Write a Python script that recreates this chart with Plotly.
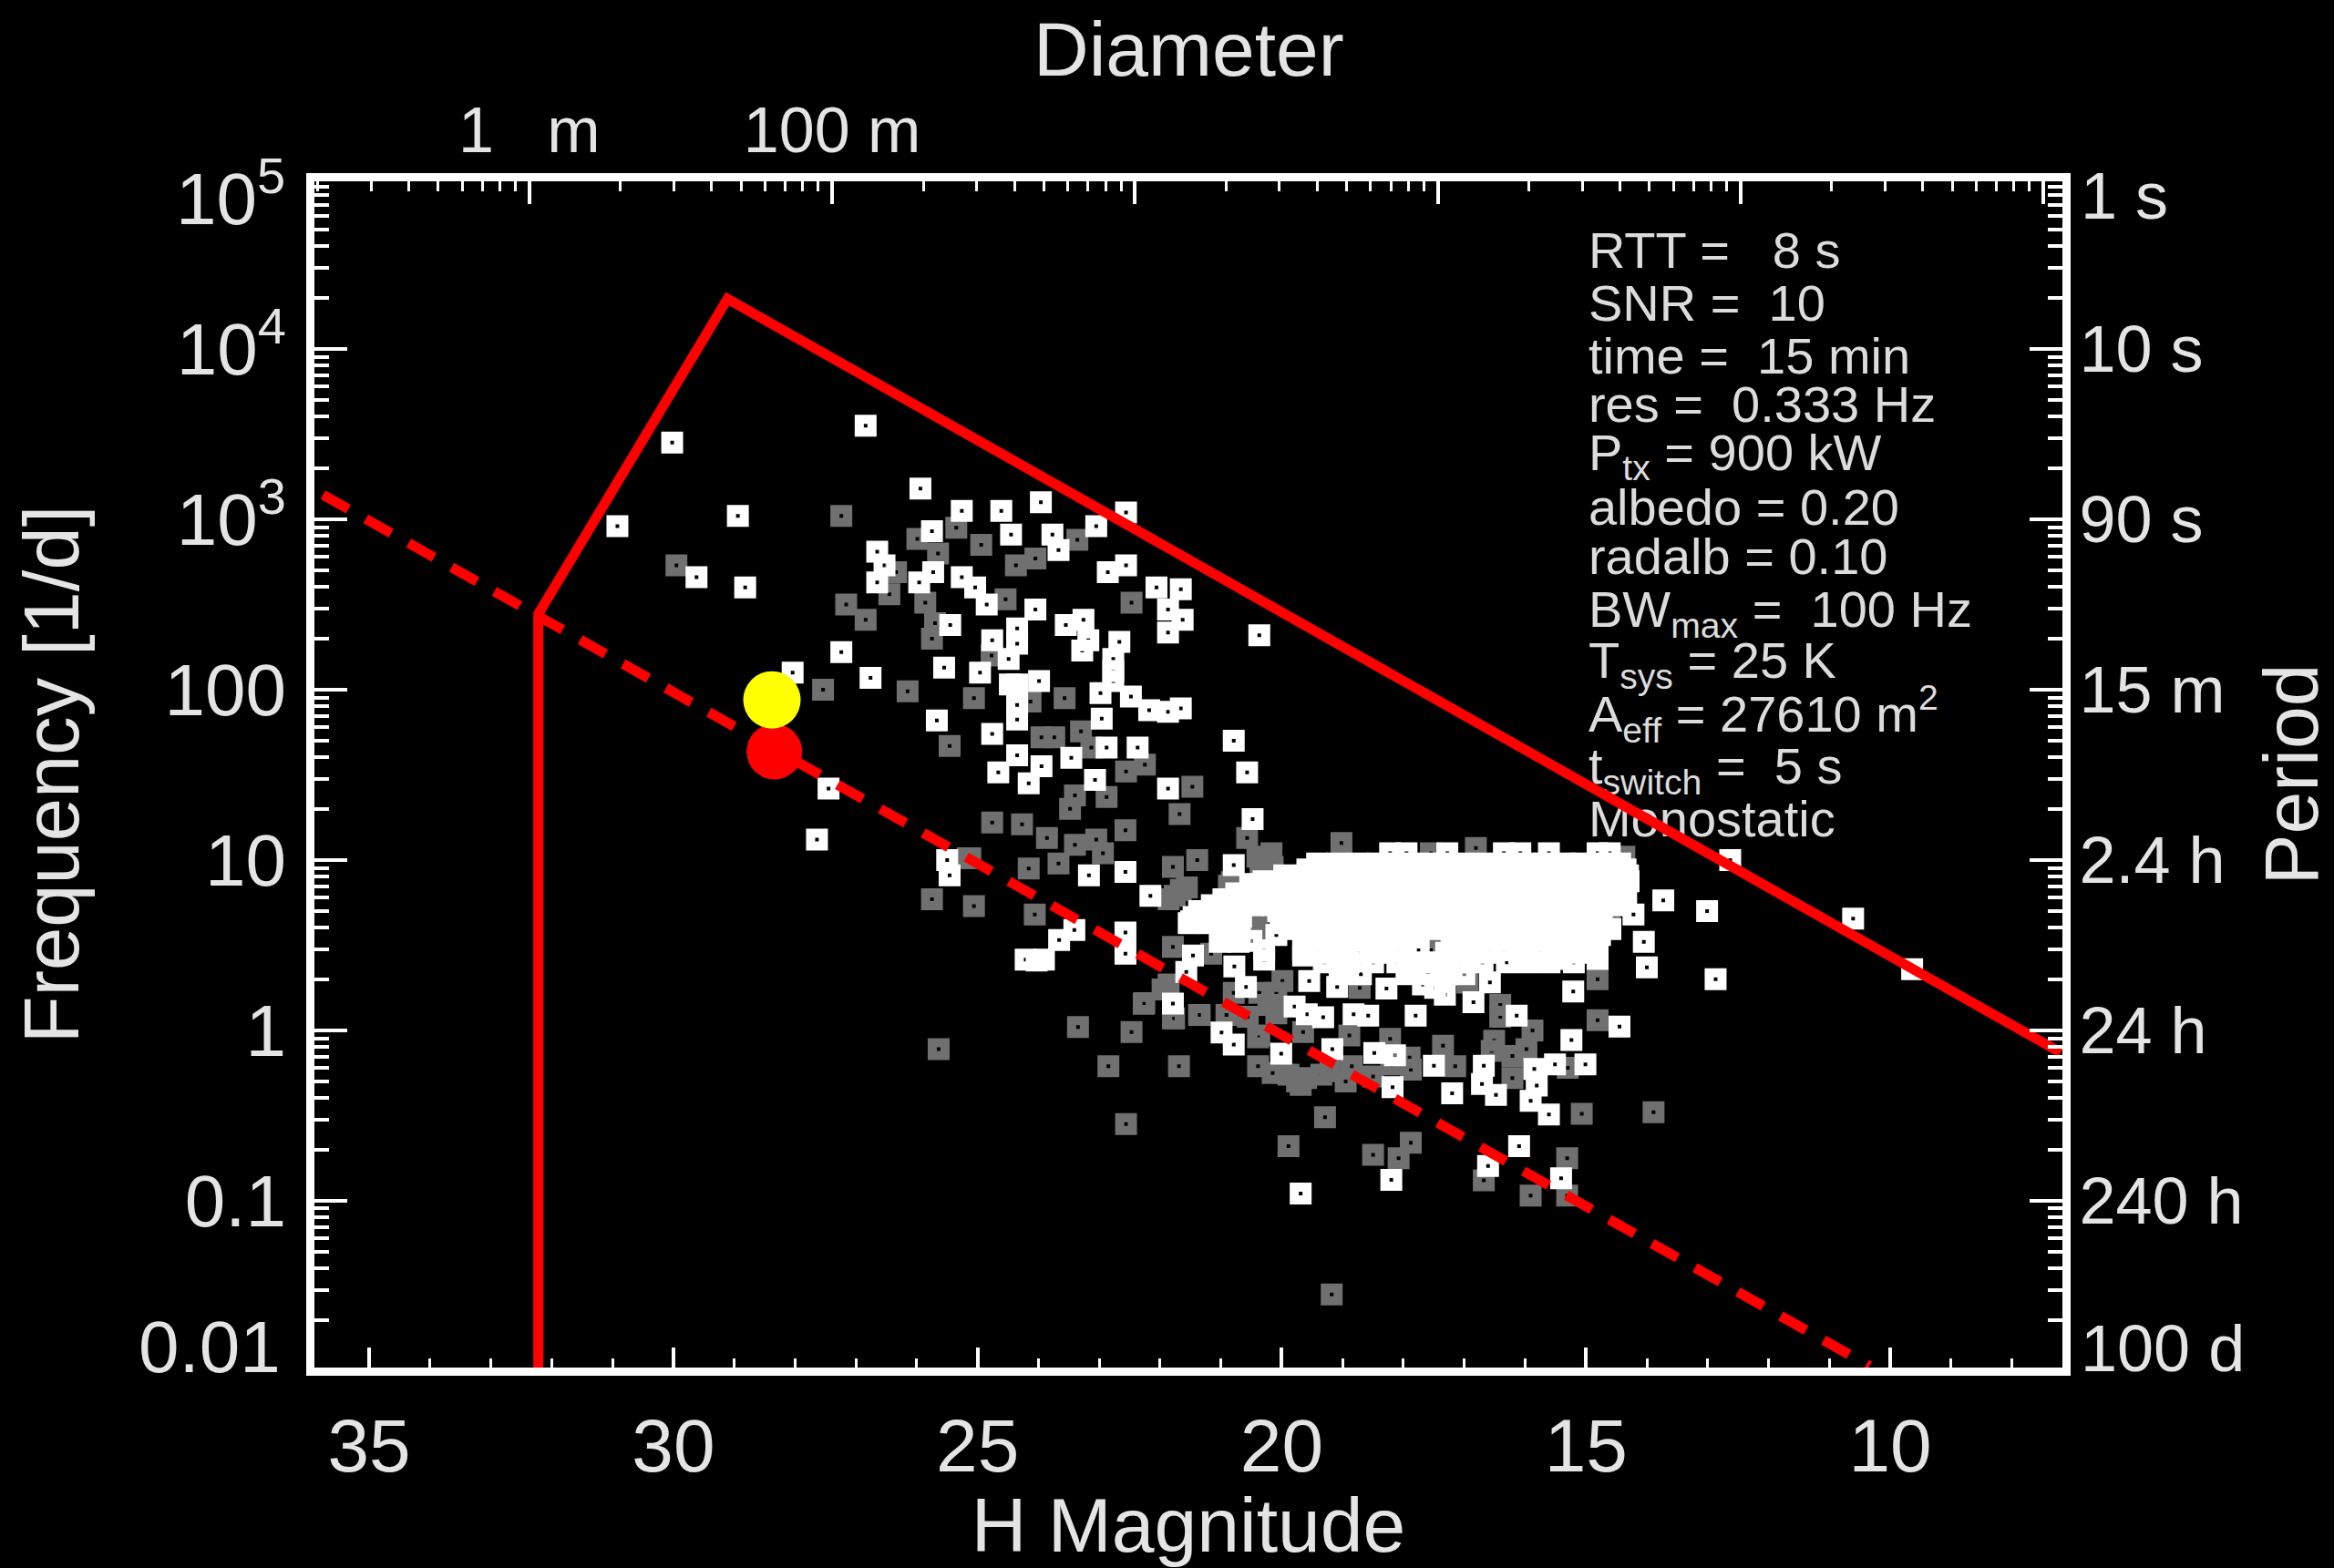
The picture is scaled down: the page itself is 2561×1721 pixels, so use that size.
import numpy as np
import plotly.graph_objects as go

# ---------- data (H magnitude, log10 frequency [1/d]) ----------
white_h = [26.84,30.02,25.94,30.92,28.94,25.26,24.61,23.96,22.56,23.05,25.75,24.45,23.77,23.67,22.86,22.56,29.62,28.82,
26.65,26.53,26.65,25.73,25.96,25.26,25.04,24.85,24.05,22.06,21.66,21.87,21.63,21.87,25.45,24.76,24.35,24.35,24.49,
23.55,23.26,23.18,23.28,22.67,22.77,22.77,22.77,20.37,27.24,28.04,26.76,25.55,24.96,24.47,24.35,23.99,22.98,22.48,
22.18,21.87,21.66,24.35,24.35,25.67,22.96,24.76,22.88,22.37,24.35,23.46,24.66,23.95,24.16,23.07,21.87,20.79,20.57,
20.48,27.45,27.64,25.50,25.46,23.17,22.57,20.79,22.16,21.46,21.57,20.78,20.59,20.29,19.65,19.55,21.79,19.79,19.59,
19.32,18.82,18.58,20.99,20.79,20.01,19.17,18.48,18.14,18.18,17.80,18.28,19.09,17.32,16.85,16.58,16.14,17.50,16.68,
16.71,16.48,17.20,15.85,15.81,15.91,15.61,15.51,15.01,15.24,15.21,14.45,16.10,16.61,15.41,18.20,19.69,14.00,14.05,
14.22,13.73,13.01,12.87,12.63,10.61,9.64,22.57,22.57,23.66,23.41,24.03,24.21,23.91,
21.49,21.22,20.96,21.02,20.71,20.67,20.96,20.52,20.27,20.47,
19.02,17.82,17.35,17.08,16.01,15.54,14.81,17.68,17.48]
white_log_freq = [3.55,3.45,3.18,2.96,3.02,3.05,3.05,3.10,3.04,2.96,2.93,2.91,2.91,2.82,2.69,2.73,2.66,2.60,
2.81,2.73,2.63,2.69,2.63,2.66,2.60,2.50,2.47,2.60,2.59,2.47,2.41,2.335,2.38,2.29,2.36,2.27,2.18,
2.38,2.41,2.29,2.23,2.28,2.18,2.11,2.05,2.32,2.22,2.10,2.07,2.13,2.10,2.03,2.03,2.05,1.98,1.96,
1.88,1.87,1.89,1.91,1.825,1.82,1.83,1.74,1.66,1.66,1.615,1.60,1.515,1.55,1.45,1.47,1.42,1.70,1.515,
1.24,1.42,1.12,1.00,0.91,0.91,0.93,0.97,0.79,0.44,0.344,0.376,0.255,0.416,0.44,0.29,0.157,0.14,0.095,
0.077,0.095,0.086,-0.012,-0.083,-0.137,-0.11,-0.133,-0.146,-0.333,0.086,0.246,0.255,0.21,0.166,0.282,0.086,-0.208,-0.208,
-0.315,-0.378,-0.369,-0.226,-0.324,-0.413,-0.493,-0.199,-0.199,-0.057,0.228,0.023,-0.68,-0.796,-0.868,-0.877,-0.957,0.37,0.52,
0.68,0.763,0.70,0.30,1.00,0.656,0.36,0.575,0.45,0.53,0.59,0.41,0.415,0.415,
0.64,0.665,0.575,0.52,0.52,0.665,0.736,0.86,0.86,0.736,
0.38,0.38,0.36,0.40,0.42,0.42,0.42,0.27,0.25]

gray_h = [27.24,25.35,25.99,24.94,25.65,23.36,24.05,24.37,29.95,26.34,26.45,27.16,25.86,26.84,24.54,22.47,25.70,25.75,24.77,
23.57,25.06,24.13,26.15,27.54,25.46,23.95,23.74,23.30,23.13,22.56,22.25,23.40,22.88,23.48,21.47,21.68,24.76,24.27,23.86,
22.57,23.40,23.05,22.94,20.57,23.67,24.16,21.39,21.79,20.17,25.12,25.16,
19.02,20.29,21.56,21.76,20.82,21.79,20.39,20.36,17.55,16.81,14.37,14.61,14.81,16.95,17.55,19.32,18.72,19.99,20.09,20.22,
20.09,21.96,22.26,21.79,21.36,20.56,20.39,19.65,18.89,18.22,16.41,16.41,14.81,15.88,16.51,16.21,15.98,17.35,17.15,17.88,
18.85,19.35,20.39,21.69,19.89,19.69,16.21,15.07,13.89,19.29,19.89,17.88,18.50,18.08,15.31,16.68,15.91,15.31,25.64,23.35,
22.47,22.85,22.56,19.18,25.75,25.06,24.06,21.86,21.66,21.16,22.27,21.77,21.35,21.86,20.79,20.37,20.91,20.37,20.87,
19.6,19.2,18.95,18.5,19.75,20.15,17.9,18.2,16.55,15.3,20.4,20.2,20.35,20.15]
gray_log_freq = [3.02,2.95,2.885,2.85,2.80,2.88,2.77,2.73,2.73,2.69,2.56,2.50,2.51,2.41,2.53,2.51,2.39,2.30,2.20,
1.95,1.95,1.93,1.99,2.00,1.67,1.72,1.72,1.755,1.66,1.52,1.56,1.38,1.37,1.30,1.43,1.27,1.22,1.21,1.13,
1.175,1.09,1.12,1.04,1.13,0.98,0.95,1.00,0.96,1.04,1.01,1.01,
1.10,1.01,0.84,0.79,0.87,0.49,0.61,0.56,1.04,1.07,1.02,0.67,0.30,0.28,0.47,0.42,0.25,0.29,0.22,0.15,
0.10,0.24,0.16,0.07,0.09,0.08,-0.04,-0.01,-0.03,-0.05,0.15,0.08,0.06,0.0,-0.06,-0.15,-0.11,-0.09,-0.21,-0.23,
-0.21,-0.26,-0.21,-0.21,-0.26,-0.32,-0.28,-0.49,-0.48,-0.51,-0.68,-0.66,-0.73,-0.75,-0.75,-0.88,-0.97,-0.97,-0.11,0.02,
-0.01,-0.21,-0.55,-1.55,0.77,0.73,0.68,0.77,0.825,0.45,0.156,0.07,0.09,0.27,0.22,0.22,0.09,-0.03,0.85,
-0.28,-0.24,-0.3,-0.27,-0.3,-0.25,-0.16,-0.2,-0.12,-0.22,1.02,1.0,0.96,0.96]

blob_rows_log_freq = [1.04,0.98,0.91,0.84,0.77,0.70,0.63,0.56,0.47,0.945,0.875,0.805,0.735,0.665,0.595,0.525,0.455,0.40,0.33]
blob_rows_h = [
 [18.22,17.95,17.28,16.35,16.08,15.61,14.81,14.61],
 [19.42,19.09,18.75,18.42,18.08,17.75,17.42,17.08,16.75,16.41,16.01,15.68,15.34,15.08,14.74,14.44],
 [19.96,19.62,19.25,18.92,18.58,18.25,17.92,17.58,17.25,16.91,16.58,16.25,15.91,15.58,15.24,14.91,14.57,14.31],
 [20.49,20.16,19.79,19.45,19.09,18.75,18.42,18.08,17.75,17.42,17.08,16.75,16.41,16.08,15.74,15.41,15.08,14.74,14.41],
 [20.96,20.62,20.29,19.96,19.62,19.29,18.95,18.62,18.28,17.95,17.62,17.28,16.95,16.61,16.28,15.94,15.61,15.28,14.94,14.61,14.34],
 [21.36,21.03,20.69,20.06,19.72,19.39,19.05,18.72,18.38,18.05,17.72,17.38,17.05,16.71,16.38,16.05,15.71,15.38,15.04],
 [21.53,21.19,20.86,20.02,19.69,19.35,19.02,18.69,18.35,18.02,17.68,17.35,17.02,16.68,16.35,16.01,15.68,15.34,15.01,14.74],
 [20.99,20.69,20.09,19.59,19.25,18.92,18.58,18.25,17.92,17.11,16.78,16.45,16.11,15.78,15.44,15.11,14.77],
 [20.29,19.65,18.99,18.28,17.75,17.21,16.81,16.35,16.01,15.54,15.14,14.81],
 [19.58,19.25,18.92,18.58,18.25,17.92,17.58,17.25,16.92,16.58,16.25,15.92,15.58,15.25,14.92,14.58,14.35],
 [20.30,19.95,19.62,19.28,18.95,18.60,18.28,17.95,17.60,17.28,16.95,16.60,16.28,15.95,15.60,15.28,14.95,14.60,14.30],
 [20.75,20.42,20.08,19.75,19.42,19.08,18.75,18.42,18.08,17.75,17.42,17.08,16.75,16.42,16.08,15.75,15.42,15.08,14.75,14.42],
 [21.15,20.82,20.48,20.15,19.82,19.48,19.15,18.82,18.48,18.15,17.82,17.48,17.15,16.82,16.48,16.15,15.82,15.48,15.15,14.85,14.50],
 [21.45,21.12,20.78,19.90,19.55,19.22,18.88,18.55,18.22,17.88,17.55,17.22,16.88,16.55,16.22,15.88,15.55,15.22,14.90],
 [21.00,20.70,19.85,19.52,19.18,18.85,18.52,18.18,17.85,17.52,17.18,16.85,16.52,16.18,15.85,15.52,15.18,14.85,14.60],
 [20.85,20.50,19.50,19.15,18.82,18.48,18.15,17.20,16.90,16.55,16.20,15.90,15.55,15.20,14.90],
 [19.40,19.10,18.75,18.45,18.10,17.30,16.95,16.60,16.10,15.75,15.30,15.00],
 [19.30,18.90,18.50,18.10,17.75,17.40,17.05,16.70,16.30,15.95,15.60,15.20],
 [19.05,18.70,17.95,17.60,17.30,17.00],
]

limit_h = [32.22,32.22,29.11,7.20]
limit_log_freq = [-2.0,2.444,4.294,-0.13]
dashed_h = [35.76,10.34]
dashed_log_freq = [3.144,-1.97]
red_dot_h, red_dot_log_freq = 28.34, 1.636
yellow_dot_h, yellow_dot_log_freq = 28.38, 1.94

x_tick_vals = [35,30,25,20,15,10]
y_tick_vals = [0.1,1,10,100,1e3,1e4]
y_tick_text = ["0.1","1","10","100","10<sup>3</sup>","10<sup>4</sup>"]
period_tick_text = ["240 h","24 h","2.4 h","15 m","90 s","10 s"]
top_tick_vals = [1,10,100,1000,1e4,1e5]
top_tick_text = ["1\u00a0\u00a0 m","100 m","","","",""]

info_lines = ["RTT =\u00a0\u00a0\u00a08 s","SNR =\u00a0\u00a010","time =\u00a0\u00a015 min","res =\u00a0\u00a00.333 Hz",
 "P<sub>tx</sub> = 900 kW","albedo = 0.20","radalb = 0.10","BW<sub>max</sub> =\u00a0\u00a0100 Hz",
 "T<sub>sys</sub> = 25 K","A<sub>eff</sub> = 27610 m<sup>2</sup>","t<sub>switch</sub> =\u00a0\u00a05 s","Monostatic"]
info_log_freq = [4.551,4.238,3.928,3.645,3.365,3.045,2.755,2.445,2.145,1.83,1.525,1.215]
info_h = 14.96

# ---------- style ----------
FONT = "Liberation Sans"
TXT = "#e4e4e4"
W, H = 2561, 1721
L, R, T, B = 345, 2263, 199, 1501   # plot-area edges in pixels

def paper(px, py):
    return (px-L)/(R-L), 1-(py-T)/(B-T)

def sq(size=14, lw=10, color="white"):
    return dict(symbol="square-open", size=size, color=color, line=dict(width=lw, color=color))

fig = go.Figure()
fig.add_trace(go.Scatter(x=gray_h, y=10**np.array(gray_log_freq), mode="markers", marker=sq(color="#707070"), hoverinfo="skip"))
blob_x = [h for row in blob_rows_h for h in row]
blob_y = [10**lf for lf, row in zip(blob_rows_log_freq, blob_rows_h) for _ in row]
fig.add_trace(go.Scatter(x=blob_x, y=blob_y, mode="markers", marker=sq(), hoverinfo="skip"))
fig.add_trace(go.Scatter(x=white_h, y=10**np.array(white_log_freq), mode="markers", marker=sq(), hoverinfo="skip"))
fig.add_trace(go.Scatter(x=[info_h]*len(info_lines), y=10**np.array(info_log_freq), mode="text", text=info_lines,
    textposition="middle right", textfont=dict(family=FONT, size=56, color="#dcdcdc"), hoverinfo="skip"))
fig.add_trace(go.Scatter(x=limit_h, y=10**np.array(limit_log_freq), mode="lines", line=dict(color="#ff0000", width=11), hoverinfo="skip"))
fig.add_trace(go.Scatter(x=dashed_h, y=10**np.array(dashed_log_freq), mode="lines", line=dict(color="#ff0000", width=11, dash="32px,22px"), hoverinfo="skip"))
fig.add_trace(go.Scatter(x=[red_dot_h], y=[10**red_dot_log_freq], mode="markers", marker=dict(color="#ff0000", size=61, line=dict(width=0)), hoverinfo="skip"))
fig.add_trace(go.Scatter(x=[yellow_dot_h], y=[10**yellow_dot_log_freq], mode="markers", marker=dict(color="#ffff00", size=63, line=dict(width=0)), hoverinfo="skip"))
# empty trace that carries the top and right axes
fig.add_trace(go.Scatter(x=[1], y=[1], xaxis="x2", yaxis="y2", mode="markers", marker=dict(opacity=0), hoverinfo="skip"))

axis_common = dict(showgrid=False, zeroline=False, showline=True, linecolor="white", linewidth=9, ticks="inside",
                   tickcolor="white", tickwidth=4, tickfont=dict(family=FONT, color=TXT))

y_minor = [m*10.0**e for e in range(-2,5) for m in range(2,10)]
top_minor = [m*10.0**e for e in range(-1,5) for m in range(2,10)]

fig.update_layout(
    width=W, height=H, autosize=False, showlegend=False,
    paper_bgcolor="black", plot_bgcolor="black",
    margin=dict(l=L, r=W-R, t=T, b=H-B, autoexpand=False),
    font=dict(family=FONT, color=TXT),
    xaxis=dict(axis_common, range=[35.90,7.17], tickvals=x_tick_vals, ticklen=22, ticklabelstandoff=7,
               tickfont=dict(family=FONT, color=TXT, size=82),
               minor=dict(ticks="inside", dtick=1, ticklen=10, tickwidth=3, tickcolor="white"),
               title=dict(text="H Magnitude", font=dict(family=FONT, size=84, color=TXT), standoff=49)),
    xaxis2=dict(axis_common, type="log", range=[-0.710,5.063], overlaying="x", side="top", anchor="y",
                tickmode="array", tickvals=top_tick_vals, ticktext=top_tick_text, ticklen=25, ticklabelstandoff=-5,
                tickfont=dict(family=FONT, color=TXT, size=70),
                minor=dict(ticks="inside", tickmode="array", tickvals=top_minor, ticklen=11, tickwidth=3, tickcolor="white")),
    yaxis=dict(axis_common, type="log", range=[-1.979,4.984], tickmode="array", tickvals=y_tick_vals, ticktext=y_tick_text,
               ticklen=36, ticklabelstandoff=6, tickfont=dict(family=FONT, color=TXT, size=80),
               minor=dict(ticks="inside", tickmode="array", tickvals=y_minor, ticklen=16, tickwidth=4, tickcolor="white"),
               title=dict(text="Frequency [1/d]", font=dict(family=FONT, size=85, color=TXT), standoff=69)),
    yaxis2=dict(axis_common, type="log", range=[-1.979,4.984], overlaying="y", side="right", anchor="x",
                tickmode="array", tickvals=y_tick_vals, ticktext=period_tick_text, ticklen=36, ticklabelstandoff=-5,
                tickfont=dict(family=FONT, color=TXT, size=72),
                minor=dict(ticks="inside", tickmode="array", tickvals=y_minor, ticklen=16, tickwidth=4, tickcolor="white"),
                title=dict(text="Period", font=dict(family=FONT, size=84, color=TXT), standoff=35)),
)

def corner(text, px, py, anchor, size):
    x, y = paper(px, py)
    fig.add_annotation(text=text, x=x, y=y, xref="paper", yref="paper", xanchor=anchor, yanchor="middle",
                       showarrow=False, font=dict(family=FONT, size=size, color=TXT))
corner("10<sup>5</sup>", 315, 212, "right", 80)
corner("0.01", 310, 1478, "right", 80)
corner("1 s", 2281, 215, "left", 72)
corner("100 d", 2281, 1480, "left", 72)
x_mid, y_top = paper(1304, 54)
fig.add_annotation(text="Diameter", x=x_mid, y=y_top, xref="paper", yref="paper", xanchor="center", yanchor="middle",
                   showarrow=False, font=dict(family=FONT, size=84, color=TXT))

fig.write_html("out.html", config=dict(displayModeBar=False),
               post_script="document.body.style.margin='0';document.body.style.background='black';document.body.style.overflow='hidden';")
